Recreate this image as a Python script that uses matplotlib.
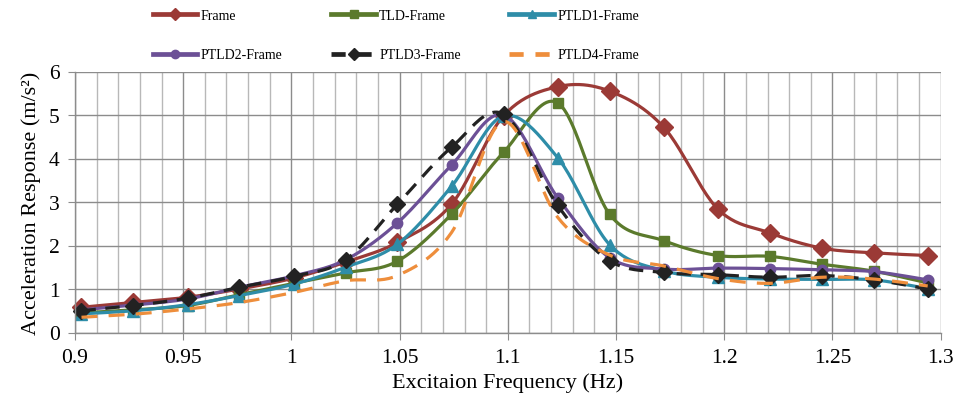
import numpy as np
import matplotlib
matplotlib.use("Agg")
import matplotlib.pyplot as plt
from matplotlib.lines import Line2D
from matplotlib.ticker import MultipleLocator

plt.rcParams['font.family'] = ['Liberation Serif', 'DejaVu Serif']

freq = [0.903, 0.927, 0.952, 0.976, 1.001, 1.025, 1.049, 1.074, 1.098,
        1.123, 1.147, 1.172, 1.197, 1.221, 1.245, 1.269, 1.294]

frame = [0.58, 0.69, 0.81, 1.00, 1.25, 1.62, 2.07, 2.95, 4.98,
         5.65, 5.55, 4.72, 2.84, 2.29, 1.94, 1.83, 1.77]
tld = [0.45, 0.52, 0.62, 0.87, 1.13, 1.37, 1.64, 2.72, 4.14,
       5.28, 2.72, 2.11, 1.77, 1.75, 1.57, 1.41, 1.14]
ptld1 = [0.43, 0.50, 0.64, 0.85, 1.11, 1.50, 2.03, 3.36, 4.98,
         4.02, 2.02, 1.42, 1.27, 1.23, 1.22, 1.21, 1.01]
ptld2 = [0.52, 0.63, 0.77, 1.04, 1.30, 1.67, 2.52, 3.85, 5.00,
         3.10, 1.72, 1.46, 1.48, 1.47, 1.44, 1.40, 1.21]
ptld3 = [0.50, 0.62, 0.79, 1.04, 1.29, 1.67, 2.95, 4.26, 5.02,
         2.92, 1.65, 1.38, 1.33, 1.27, 1.31, 1.21, 1.00]
ptld4 = [0.35, 0.42, 0.54, 0.69, 0.92, 1.19, 1.31, 2.30, 4.85,
         2.65, 1.78, 1.53, 1.24, 1.13, 1.27, 1.23, 1.07]

labels = ["Frame", "TLD-Frame", "PTLD1-Frame", "PTLD2-Frame", "PTLD3-Frame", "PTLD4-Frame"]
series = [frame, tld, ptld1, ptld2, ptld3, ptld4]
colors = ["#9B3A36", "#5B7A2C", "#2E8DA8", "#6C5096", "#222222", "#EE8E3C"]
markers = ["D", "s", "^", "o", "D", None]
msizes = [9, 7.5, 8.5, 7.5, 8.5, 0]
dashes = [None, None, None, None, (4.5, 3), (5, 3.5)]


def smooth(x, y, n=24):
    p = np.column_stack([x, y]).astype(float)
    out = []
    m = len(p)
    for i in range(m - 1):
        p0 = p[i - 1] if i > 0 else p[i]
        p1 = p[i]
        p2 = p[i + 1]
        p3 = p[i + 2] if i + 2 < m else p[i + 1]
        c1 = p1 + (p2 - p0) / 6.0
        c2 = p2 - (p3 - p1) / 6.0
        t = np.linspace(0, 1, n, endpoint=(i == m - 2))[:, None]
        b = ((1 - t) ** 3) * p1 + 3 * ((1 - t) ** 2) * t * c1 + 3 * (1 - t) * t ** 2 * c2 + t ** 3 * p2
        out.append(b)
    out = np.vstack(out)
    return out[:, 0], out[:, 1]


fig = plt.figure(figsize=(9.57, 4.10), dpi=100)
ax = fig.add_axes([75 / 957, (410 - 333.5) / 410, (940.7 - 75) / 957, (333.5 - 72.5) / 410])

ax.set_xlim(0.9, 1.3)
ax.set_ylim(0, 6)
ax.xaxis.set_major_locator(MultipleLocator(0.05))
ax.xaxis.set_minor_locator(MultipleLocator(0.01))
ax.yaxis.set_major_locator(MultipleLocator(1))
ax.grid(which='major', axis='both', color='#8C8C8C', lw=1.0)
ax.grid(which='minor', axis='x', color='#B8B8B8', lw=1.0)
ax.set_axisbelow(True)
for s in ['top', 'right']:
    ax.spines[s].set_visible(False)
for s in ['left', 'bottom']:
    ax.spines[s].set_color('#8C8C8C')
    ax.spines[s].set_linewidth(1.0)
ax.tick_params(which='major', length=5, color='#8C8C8C', labelsize=15.5, pad=6)
ax.tick_params(which='minor', length=0)
ax.set_xticks(np.arange(0.9, 1.3001, 0.05))
ax.set_xticklabels(["0.9", "0.95", "1", "1.05", "1.1", "1.15", "1.2", "1.25", "1.3"])
ax.set_xlabel("Excitaion Frequency (Hz)", fontsize=16, labelpad=4)
ax.set_ylabel("Acceleration Response (m/s²)", fontsize=16, labelpad=6)

handles = []
for lab, ys, c, mk, ms, ds in zip(labels, series, colors, markers, msizes, dashes):
    sx, sy = smooth(freq, ys)
    ln, = ax.plot(sx, sy, color=c, lw=2.3, solid_capstyle='round', clip_on=False)
    if ds is not None:
        ln.set_dashes(ds)
        ln.set_dash_capstyle('butt')
    if mk is not None:
        ax.plot(freq, ys, linestyle='none', marker=mk, ms=ms, color=c, mec=c, clip_on=False)
    h = Line2D([], [], color=c, lw=3.4, marker=mk, ms=6 if mk else 0, mec=c)
    if ds is not None:
        h.set_dashes((3.0, 2.5))
    handles.append(h)

order = [0, 3, 1, 4, 2, 5]
fig.legend([handles[i] for i in order], [labels[i] for i in order], ncol=3,
           loc='upper left', bbox_to_anchor=(153 / 957, 1 - 10 / 410),
           frameon=False, fontsize=10, handlelength=3.2, handletextpad=0.25,
           columnspacing=3.5, labelspacing=1.9, borderpad=0, borderaxespad=0)

fig.savefig("out.png", dpi=100)
